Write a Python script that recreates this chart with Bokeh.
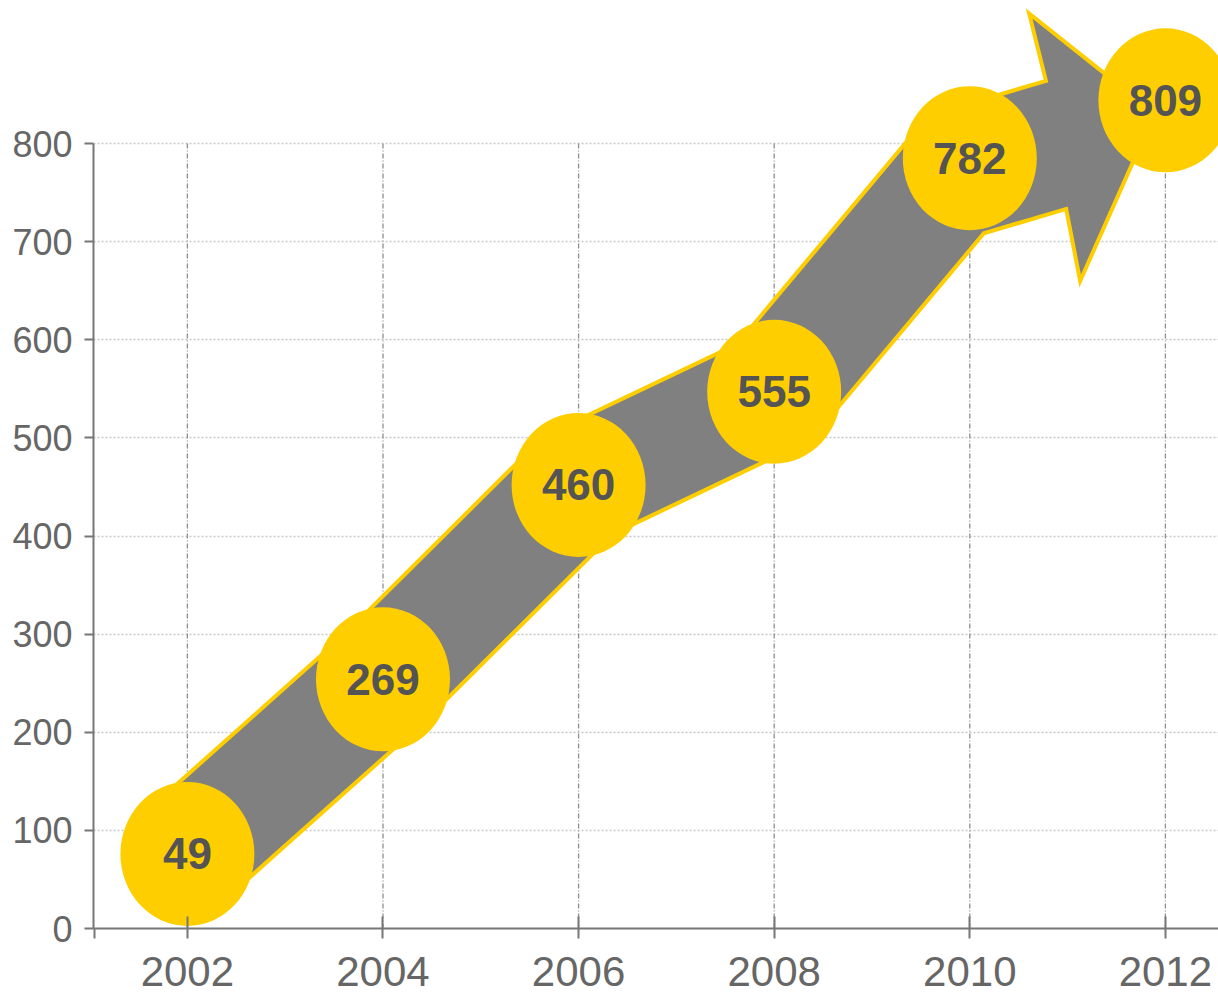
import numpy as np
from bokeh.plotting import figure
from bokeh.models import Range1d, FixedTicker
from bokeh.core.properties import value
from bokeh.embed import file_html
from bokeh.resources import INLINE

# ---------------- data ----------------
years = [2002, 2004, 2006, 2008, 2010, 2012]
totals = [49, 269, 460, 555, 782, 809]
# height at which each bubble is drawn on the value axis
bubble_heights = [76, 254, 452, 547, 785, 844]
y_ticks = [0, 100, 200, 300, 400, 500, 600, 700, 800]

# ---------------- style ----------------
FONT = "Liberation Sans"
YELLOW = "#FFCE00"
GREY = "#808080"
AXIS = "#777777"
TICK_TXT = "#666666"

W, H = 1218, 993
LEFT, BOTTOM = 93, 65
FW, FH = W - LEFT, H - BOTTOM
PX_PER_YEAR = 97.8
PX_PER_UNIT = 0.98125
x_start = 2001.04
x_end = x_start + FW / PX_PER_YEAR
y_start = 0.0
y_end = FH / PX_PER_UNIT

p = figure(width=W, height=H,
           x_range=Range1d(x_start, x_end), y_range=Range1d(y_start, y_end),
           output_backend="svg", toolbar_location=None,
           min_border_left=LEFT, min_border_right=0,
           min_border_top=0, min_border_bottom=BOTTOM)
p.outline_line_color = None
p.background_fill_color = "white"
p.border_fill_color = "white"

# ---------------- arrow geometry (screen-pixel space, y up) ----------------
def to_px(xs, ys):
    return np.column_stack([(np.asarray(xs, float) - x_start) * PX_PER_YEAR,
                            (np.asarray(ys, float) - y_start) * PX_PER_UNIT])

def to_data(pts):
    return x_start + pts[:, 0] / PX_PER_YEAR, y_start + pts[:, 1] / PX_PER_UNIT

def unit(d):
    return d / np.hypot(*d)

def lnormal(d):
    d = unit(d)
    return np.array([-d[1], d[0]])

def intersect(p1, d1, p2, d2):
    A = np.array([[d1[0], -d2[0]], [d1[1], -d2[1]]])
    t = np.linalg.solve(A, p2 - p1)
    return p1 + t[0] * d1

c = to_px(years, bubble_heights)
HW = 59  # half width of the arrow body

# body through the first five bubbles (mitred offsets)
body = c[:-1]
dirs = [unit(d) for d in np.diff(body, axis=0)]
norms = [lnormal(d) for d in dirs]
top, bot = [], []
for i in range(len(body) - 1):
    if i == 0:
        m, k = norms[0], HW
    else:
        m = unit(norms[i - 1] + norms[i])
        k = HW / np.dot(m, norms[i])
    top.append(body[i] + m * k)
    bot.append(body[i] - m * k)

# head section, in a local frame aligned from the last-but-one to the last bubble
c4, c5 = c[-2], c[-1]
u = unit(c5 - c4)
nL = lnormal(u)
def P(a, n):
    return c4 + a * u + n * nL

SHAFT_TOP, SHAFT_BOT = 52.6, -76.0
top.append(intersect(body[-2] + norms[-1] * HW, dirs[-1], P(0, SHAFT_TOP), u))
bot.append(intersect(body[-2] - norms[-1] * HW, dirs[-1], P(0, SHAFT_BOT), u))
head = [P(95, SHAFT_TOP), P(98, 122), P(190, -9.5), P(71, -149), P(78, SHAFT_BOT)]
outline = np.array(top + head + bot[::-1])
ax, ay = to_data(outline)

# ---------------- vertical grid (0..800 only) ----------------
p.segment(x0=years, y0=[y_ticks[0]] * len(years), x1=years, y1=[y_ticks[-1]] * len(years),
          line_color="#8f8f8f", line_width=1.3, line_dash="5 2 1 2")

# ---------------- arrow, bubbles, labels ----------------
p.patch(ax, ay, fill_color=GREY, line_color=YELLOW, line_width=4, line_join="miter")
p.ellipse(x=years, y=bubble_heights, width=134, height=144,
          width_units="screen", height_units="screen",
          fill_color=YELLOW, line_color=None)
p.text(x=years, y=bubble_heights, text=[str(v) for v in totals],
       text_align="center", text_baseline="middle",
       text_font=value(FONT), text_font_style="bold", text_font_size="44px",
       text_color="#545454")

# ---------------- axes & grid ----------------
p.xgrid.visible = False
p.ygrid.ticker = FixedTicker(ticks=y_ticks)
p.ygrid.grid_line_color = "#c8c8c8"
p.ygrid.grid_line_dash = "2 2"
p.ygrid.grid_line_width = 1.5

p.yaxis.ticker = FixedTicker(ticks=y_ticks)
p.yaxis.bounds = (y_ticks[0], y_ticks[-1])
p.yaxis.axis_line_color = AXIS
p.yaxis.axis_line_width = 2
p.yaxis.major_tick_line_color = AXIS
p.yaxis.major_tick_line_width = 2
p.yaxis.major_tick_in = 0
p.yaxis.major_tick_out = 9
p.yaxis.minor_tick_line_color = None
p.yaxis.major_label_standoff = 12
p.yaxis.major_label_text_font = FONT
p.yaxis.major_label_text_font_size = "36px"
p.yaxis.major_label_text_color = TICK_TXT

p.xaxis.ticker = FixedTicker(ticks=years, minor_ticks=[2001.05])
p.xaxis.axis_line_color = AXIS
p.xaxis.axis_line_width = 2
p.xaxis.major_tick_line_color = AXIS
p.xaxis.major_tick_line_width = 2
p.xaxis.major_tick_in = 12
p.xaxis.major_tick_out = 10
p.xaxis.minor_tick_line_color = AXIS
p.xaxis.minor_tick_line_width = 2
p.xaxis.minor_tick_in = 0
p.xaxis.minor_tick_out = 10
p.xaxis.major_label_standoff = 18
p.xaxis.major_label_text_font = FONT
p.xaxis.major_label_text_font_size = "42px"
p.xaxis.major_label_text_color = TICK_TXT

open("out.html", "w").write(file_html(p, INLINE))
